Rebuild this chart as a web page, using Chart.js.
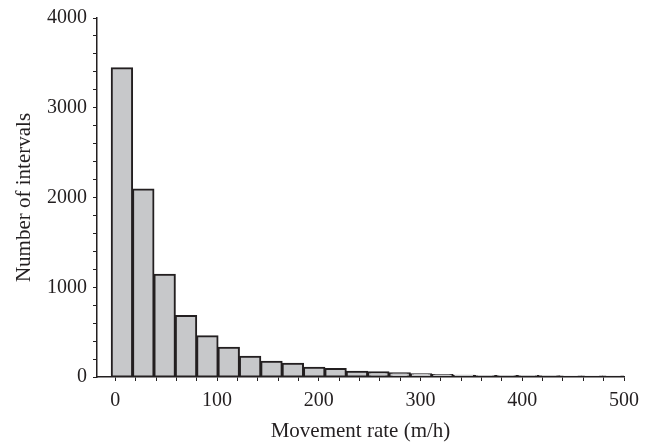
<!DOCTYPE html>
<html>
<head>
<meta charset="utf-8">
<script src="https://cdn.jsdelivr.net/npm/chart.js@4"></script>
<style>
  html, body { margin: 0; padding: 0; background: #fff; }
  #wrap { width: 651px; height: 446px; }
</style>
</head>
<body>
<div id="wrap"><canvas id="histChart" width="651" height="446"></canvas></div>
<script>
// lower edge of each bin (m/h), as drawn
const binLow = [-4, 17, 38, 59, 80, 101, 122, 143, 164, 185, 206, 227,
                248, 269, 290, 311, 332, 353, 374, 395, 416, 437, 458, 479];
const binWidth = 21;
// number of intervals in each bin
const counts = [3440, 2090, 1140, 680, 455, 325, 225, 170, 148, 103, 88, 58,
                52, 42, 32, 22, 15, 12, 10, 12, 8, 6, 4, 3];
const xMajorTicks = [0, 100, 200, 300, 400, 500];
const yMajorTicks = [0, 1000, 2000, 3000, 4000];

const tickFont = { family: "'Liberation Serif', 'DejaVu Serif', serif", size: 20 };
const titleFont = { family: "'Liberation Serif', 'DejaVu Serif', serif", size: 21 };
const ink = "#231f20";

const ctx = document.getElementById("histChart").getContext("2d");

new Chart(ctx, {
  type: "bar",
  data: {
    datasets: [{
      data: counts.map((c, i) => ({ x: binLow[i] + binWidth / 2, y: c })),
      backgroundColor: "#c7c8ca",
      borderColor: ink,
      borderWidth: 2,
      borderSkipped: false,
      inflateAmount: 1,
      barPercentage: 1,
      categoryPercentage: 1
    }]
  },
  options: {
    responsive: false,
    animation: false,
    layout: { padding: { top: 16, right: 27, left: 0, bottom: 0 } },
    plugins: { legend: { display: false }, tooltip: { enabled: false } },
    scales: {
      x: {
        type: "linear",
        min: -18,
        max: 500,
        offset: false,
        afterFit: s => { s.height = 69; },
        grid: { offset: false, drawOnChartArea: false, drawTicks: true, tickLength: 4, color: ink, tickWidth: 1 },
        border: { display: true, color: ink, width: 1.5, z: 1 },
        ticks: {
          stepSize: 20,
          includeBounds: false,
          autoSkip: false,
          maxRotation: 0,
          color: ink,
          font: tickFont,
          padding: 8,
          callback: v => (xMajorTicks.includes(v) ? String(v) : "")
        },
        title: { display: true, text: "Movement rate (m/h)", color: ink, font: titleFont, padding: { top: 0, bottom: 2 } }
      },
      y: {
        min: 0,
        max: 4000,
        afterFit: s => { s.width = 97; },
        grid: { drawOnChartArea: false, drawTicks: true, tickLength: 4, color: ink, tickWidth: 1 },
        border: { display: true, color: ink, width: 1.5 },
        ticks: {
          stepSize: 200,
          autoSkip: false,
          color: ink,
          font: tickFont,
          padding: 6,
          callback: v => (yMajorTicks.includes(v) ? String(v) : "")
        },
        title: { display: true, text: "Number of intervals", color: ink, font: titleFont, padding: { top: 12, bottom: 0 } }
      }
    }
  }
});
</script>
</body>
</html>
